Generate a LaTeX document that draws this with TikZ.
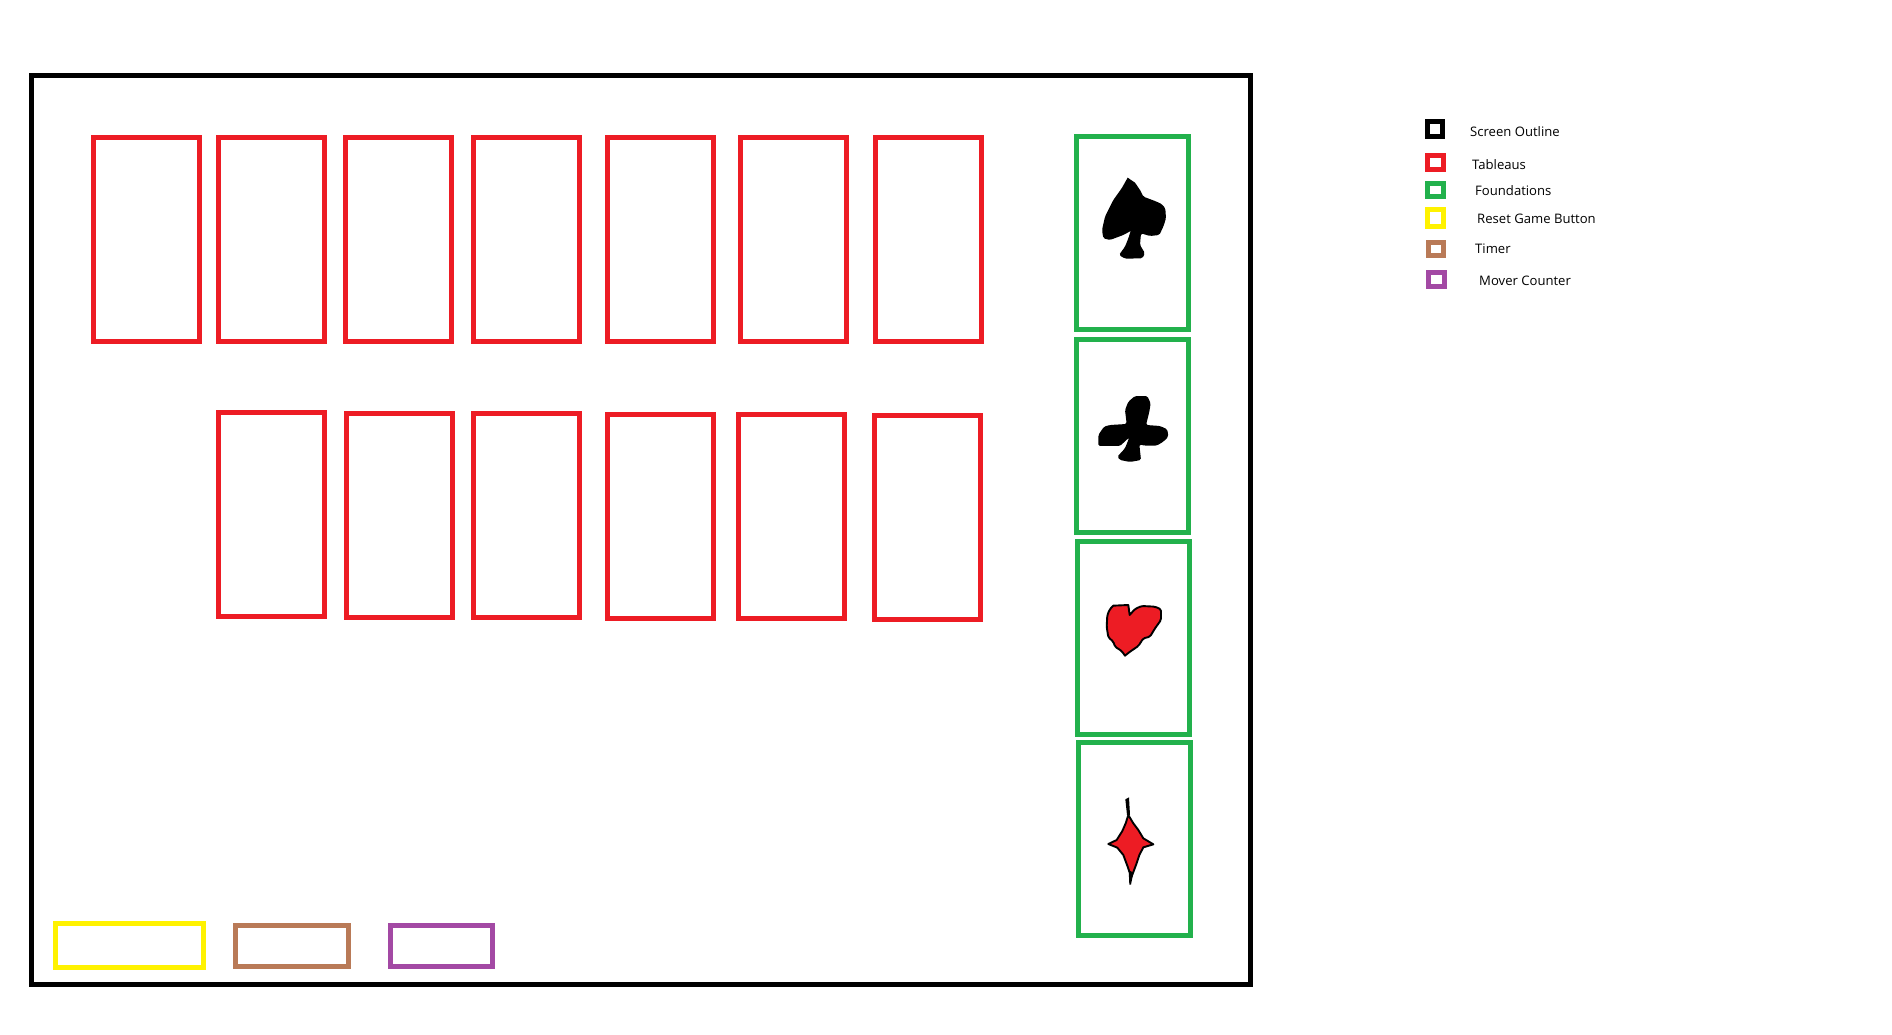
\documentclass[tikz,border=0pt]{standalone}
\usepackage{fontspec}
\setmainfont{Open Sans}
\definecolor{pred}{HTML}{ED1C24}
\definecolor{pgreen}{HTML}{22B14C}
\definecolor{pyellow}{HTML}{FFF200}
\definecolor{pbrown}{HTML}{B97A57}
\definecolor{ppurple}{HTML}{A349A4}
\tikzset{
  outl/.style={line width=5.4pt,line join=miter},
  screenbox/.style={outl,draw=black},
  tabbox/.style={outl,draw=pred},
  foundbox/.style={outl,draw=pgreen},
  resetbox/.style={outl,draw=pyellow},
  timerbox/.style={outl,draw=pbrown},
  movebox/.style={outl,draw=ppurple},
  legendtext/.style={anchor=west,inner sep=0pt,font=\fontsize{13.1pt}{15pt}\selectfont,text=black},
  suitpix/.style={x=0.3333pt,y=-0.3333pt},
  softedge/.style={rounded corners=1.6pt},
}
\newcommand{\bx}[5]{\draw[#1] ({#2+2.7},{#3+2.7}) rectangle ({#4-2.7},{#5-2.7});}
\begin{document}
\begin{tikzpicture}[x=1pt,y=-1pt]
\useasboundingbox[fill=white] (0,0) rectangle (1892,1034);
% screen
\bx{screenbox}{29}{73}{1253}{987}
% tableaus, top row
\bx{tabbox}{91}{135}{202}{344}
\bx{tabbox}{216}{135}{327}{344}
\bx{tabbox}{343}{135}{454}{344}
\bx{tabbox}{471}{135}{582}{344}
\bx{tabbox}{605}{135}{716}{344}
\bx{tabbox}{738}{135}{849}{344}
\bx{tabbox}{873}{135}{984}{344}
% tableaus, second row
\bx{tabbox}{216}{410}{327}{619}
\bx{tabbox}{344}{411}{455}{620}
\bx{tabbox}{471}{411}{582}{620}
\bx{tabbox}{605}{412}{716}{621}
\bx{tabbox}{736}{412}{847}{621}
\bx{tabbox}{872}{413}{983}{622}
% foundations
\bx{foundbox}{1074}{134}{1191}{332}
\bx{foundbox}{1074}{337}{1191}{535}
\bx{foundbox}{1075}{539}{1192}{737}
\bx{foundbox}{1076}{740}{1193}{938}
% buttons
\bx{resetbox}{53}{921}{206}{970}
\bx{timerbox}{233}{923}{351}{969}
\bx{movebox}{388}{923}{495}{969}
% spade
\begin{scope}[shift={(1060,130)},suitpix]
\fill[black] (203,143)--(225,158)--(240,180)
  [rounded corners=1.6pt] --(250,200)--(285,213)--(305,222)--(316,235)--(318,265)--(310,290)--(298,315)--(270,318)--(243,310)--(240,345)--(255,370)--(247,385)--(195,386)--(177,375)--(195,350)--(205,325)
  [rounded corners=0pt] --(212,303)
  [rounded corners=1.6pt] --(190,315)--(150,330)--(130,325)--(126,300)--(135,260)--(160,210)--(185,175)
  [rounded corners=0pt] --cycle;
\end{scope}
% club
\begin{scope}[shift={(1060,330)},suitpix,softedge]
\fill[black] (225,198)--(262,198)--(272,220)--(268,245)--(258,285)--(300,288)--(322,298)--(325,320)--(310,335)--(290,347)--(255,347)--(238,343)--(243,390)--(210,396)--(180,390)--(172,380)--(195,355)--(208,322)--(180,348)--(115,348)--(115,315)--(132,290)--(150,285)--(200,282)--(195,240)--(205,215)--cycle;
\end{scope}
% heart
\begin{scope}[shift={(1060,540)},suitpix]
\filldraw[fill=pred,draw=black,line width=1.9pt,line join=round] (160,197)--(205,195)--(209,225)
  [rounded corners=1.6pt] --(225,207)--(245,198)--(285,200)--(303,208)--(303,240)--(285,265)--(270,290)--(250,295)--(235,318)--(210,335)
  [rounded corners=0pt] --(195,347)
  [rounded corners=1.6pt] --(185,333)--(165,320)--(160,305)--(145,292)--(140,260)--(142,225)--(150,207)
  [rounded corners=0pt] --cycle;
\end{scope}
% diamond
\begin{scope}[shift={(1060,770)},suitpix]
\filldraw[fill=pred,draw=black,line width=1.9pt,line join=round] (205,135)--(220,160)--(235,180)--(250,205)--(280,223)--(250,232)--(238,255)--(228,285)--(214,322)--(203,290)--(190,255)--(172,233)--(145,222)--(170,210)--(187,183)--(197,160)--cycle;
\fill[black] (196,88)--(207,82)--(210,135)--(201,135)--cycle;
\fill[black] (206,300)--(220,308)--(213,344)--(208,344)--cycle;
\end{scope}
% legend
\bx{screenbox}{1425}{119}{1445}{139}
\bx{tabbox}{1425}{153}{1446}{172}
\bx{foundbox}{1425}{181}{1446}{199}
\bx{resetbox}{1425}{207}{1446}{229}
\bx{timerbox}{1426}{240}{1446}{258}
\bx{movebox}{1426}{270}{1447}{289}
\node[legendtext] (l1) at (1470,132) {Screen Outline};
\node[legendtext] (l2) at (1472,165) {Tableaus};
\node[legendtext] (l3) at (1475,191) {Foundations};
\node[legendtext] (l4) at (1477,218.5) {Reset Game Button};
\node[legendtext] (l5) at (1475,249) {Timer};
\node[legendtext] (l6) at (1479,280.5) {Mover Counter};
\end{tikzpicture}
\end{document}
